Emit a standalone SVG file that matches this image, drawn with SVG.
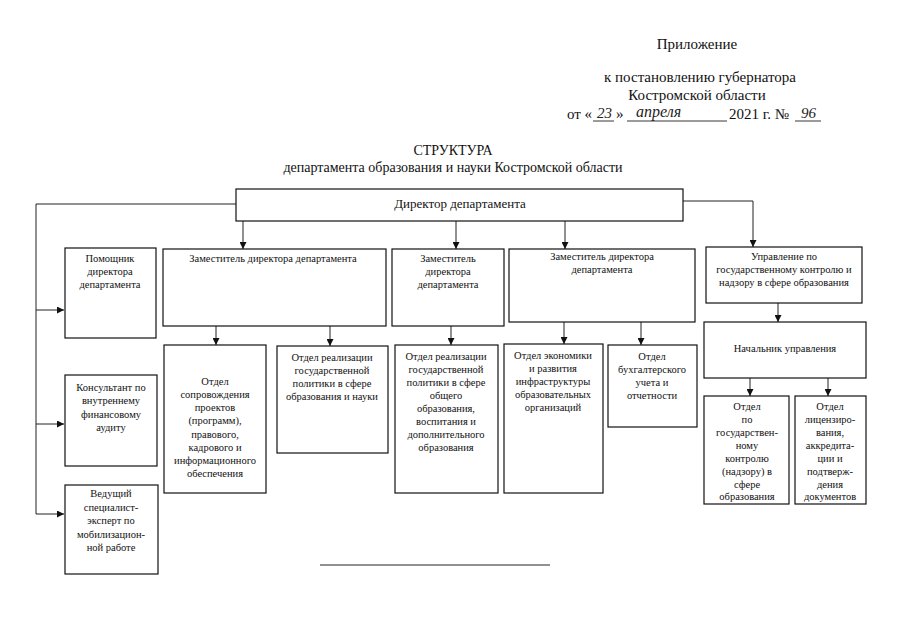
<svg xmlns="http://www.w3.org/2000/svg" width="905" height="640" viewBox="0 0 905 640">
<style>
.bg{fill:#fff}
.box{fill:#fff;stroke:#111;stroke-width:1.2}
.t{font-family:"Liberation Serif","Times New Roman",serif;font-size:10.5px;fill:#111;text-anchor:middle}
.h{font-family:"Liberation Serif","Times New Roman",serif;font-size:15px;fill:#111}
.hw{font-family:"Liberation Serif","Times New Roman",serif;font-style:italic;font-size:15px;fill:#222}
.ti{font-family:"Liberation Serif","Times New Roman",serif;font-size:14px;fill:#111;text-anchor:middle}
.c{fill:none;stroke:#222;stroke-width:1}
</style>
<defs>
<marker id="ar" viewBox="0 0 8 8" refX="8" refY="4" markerWidth="7" markerHeight="7" markerUnits="userSpaceOnUse" orient="auto">
<path d="M0,0 L8,4 L0,8 z" fill="#111"/>
</marker>
</defs>
<rect class="bg" x="0" y="0" width="905" height="640"/>

<g id="header">
<text class="h" x="697" y="49" text-anchor="middle">Приложение</text>
<text class="h" x="700" y="82" text-anchor="middle">к постановлению губернатора</text>
<text class="h" x="697" y="100" text-anchor="middle">Костромской области</text>
<text class="h" x="592" y="119" text-anchor="end">от «</text>
<text class="hw" x="597" y="118">23</text>
<text class="h" x="616" y="119">»</text>
<text class="hw" x="636" y="117" style="font-size:16px">апреля</text>
<text class="h" x="729" y="119">2021 г. №</text>
<text class="hw" x="801" y="118">96</text>
<path d="M593,121 H614 M627,121 H727 M795,121 H821" stroke="#222" stroke-width="0.9" fill="none"/>
</g>

<g id="title">
<text class="ti" x="453" y="155">СТРУКТУРА</text>
<text class="ti" x="453" y="172">департамента образования и науки Костромской области</text>
</g>

<g id="connectors">
<path class="c" d="M236,204 H36 V514 H64" marker-end="url(#ar)"/>
<path class="c" d="M36,310 H64" marker-end="url(#ar)"/>
<path class="c" d="M36,424 H64" marker-end="url(#ar)"/>
<path class="c" d="M243,221 V249" marker-end="url(#ar)"/>
<path class="c" d="M456,221 V249" marker-end="url(#ar)"/>
<path class="c" d="M565,221 V249" marker-end="url(#ar)"/>
<path class="c" d="M683,201 H753 V247" marker-end="url(#ar)"/>
<path class="c" d="M216,326 V345" marker-end="url(#ar)"/>
<path class="c" d="M330,326 V346" marker-end="url(#ar)"/>
<path class="c" d="M451,326 V345" marker-end="url(#ar)"/>
<path class="c" d="M564,322 V344" marker-end="url(#ar)"/>
<path class="c" d="M641,322 V345" marker-end="url(#ar)"/>
<path class="c" d="M778,303 V322" marker-end="url(#ar)"/>
<path class="c" d="M750,378 V396" marker-end="url(#ar)"/>
<path class="c" d="M828,378 V396" marker-end="url(#ar)"/>
</g>

<g id="director">
<rect class="box" x="236" y="189" width="447" height="32"/>
<text class="t" x="460" y="208" style="font-size:13px">Директор департамента</text>
</g>

<g id="pomoshnik">
<rect class="box" x="65" y="248" width="91" height="90"/>
<text class="t" x="110" y="262">Помощник</text>
<text class="t" x="110" y="275">директора</text>
<text class="t" x="110" y="288">департамента</text>
</g>

<g id="konsultant">
<rect class="box" x="65" y="375" width="92" height="91"/>
<text class="t" x="111" y="391">Консультант по</text>
<text class="t" x="111" y="404">внутреннему</text>
<text class="t" x="111" y="418">финансовому</text>
<text class="t" x="111" y="431">аудиту</text>
</g>

<g id="vedushiy">
<rect class="box" x="65" y="485" width="93" height="89"/>
<text class="t" x="111" y="497">Ведущий</text>
<text class="t" x="111" y="511">специалист-</text>
<text class="t" x="111" y="524">эксперт по</text>
<text class="t" x="111" y="538">мобилизацион-</text>
<text class="t" x="111" y="551">ной работе</text>
</g>

<g id="zam1">
<rect class="box" x="163" y="249" width="223" height="77"/>
<text class="t" x="273" y="262">Заместитель директора департамента</text>
</g>

<g id="zam2">
<rect class="box" x="392" y="249" width="112" height="77"/>
<text class="t" x="448" y="262">Заместитель</text>
<text class="t" x="448" y="275">директора</text>
<text class="t" x="448" y="288">департамента</text>
</g>

<g id="zam3">
<rect class="box" x="509" y="249" width="186" height="73"/>
<text class="t" x="602" y="260">Заместитель директора</text>
<text class="t" x="602" y="273">департамента</text>
</g>

<g id="upravlenie">
<rect class="box" x="706" y="247" width="156" height="56"/>
<text class="t" x="784" y="260">Управление по</text>
<text class="t" x="784" y="273">государственному контролю и</text>
<text class="t" x="784" y="286">надзору в сфере образования</text>
</g>

<g id="otdel_soprovozhdeniya">
<rect class="box" x="164" y="345" width="102" height="148"/>
<text class="t" x="215" y="385">Отдел</text>
<text class="t" x="215" y="398">сопровождения</text>
<text class="t" x="215" y="411">проектов</text>
<text class="t" x="215" y="424">(программ),</text>
<text class="t" x="215" y="438">правового,</text>
<text class="t" x="215" y="451">кадрового и</text>
<text class="t" x="215" y="464">информационного</text>
<text class="t" x="215" y="477">обеспечения</text>
</g>

<g id="otdel_nauki">
<rect class="box" x="277" y="346" width="111" height="107"/>
<text class="t" x="332" y="361">Отдел реализации</text>
<text class="t" x="332" y="374">государственной</text>
<text class="t" x="332" y="387">политики в сфере</text>
<text class="t" x="332" y="400">образования и науки</text>
</g>

<g id="otdel_obshego">
<rect class="box" x="395" y="345" width="103" height="148"/>
<text class="t" x="446" y="360">Отдел реализации</text>
<text class="t" x="446" y="373">государственной</text>
<text class="t" x="446" y="386">политики в сфере</text>
<text class="t" x="446" y="399">общего</text>
<text class="t" x="446" y="412">образования,</text>
<text class="t" x="446" y="425">воспитания и</text>
<text class="t" x="446" y="438">дополнительного</text>
<text class="t" x="446" y="451">образования</text>
</g>

<g id="otdel_ekonomiki">
<rect class="box" x="504" y="344" width="99" height="149"/>
<text class="t" x="553" y="359">Отдел экономики</text>
<text class="t" x="553" y="372">и развития</text>
<text class="t" x="553" y="385">инфраструктуры</text>
<text class="t" x="553" y="398">образовательных</text>
<text class="t" x="553" y="411">организаций</text>
</g>

<g id="otdel_buh">
<rect class="box" x="608" y="345" width="89" height="82"/>
<text class="t" x="652" y="360">Отдел</text>
<text class="t" x="652" y="373">бухгалтерского</text>
<text class="t" x="652" y="386">учета и</text>
<text class="t" x="652" y="399">отчетности</text>
</g>

<g id="nachalnik">
<rect class="box" x="704" y="322" width="162" height="56"/>
<text class="t" x="785" y="352">Начальник управления</text>
</g>

<g id="otdel_kontrol">
<rect class="box" x="704" y="396" width="85" height="108"/>
<text class="t" x="747" y="410">Отдел</text>
<text class="t" x="747" y="423">по</text>
<text class="t" x="747" y="436">государствен-</text>
<text class="t" x="747" y="449">ному</text>
<text class="t" x="747" y="462">контролю</text>
<text class="t" x="747" y="475">(надзору) в</text>
<text class="t" x="747" y="488">сфере</text>
<text class="t" x="747" y="500">образования</text>
</g>

<g id="otdel_licenz">
<rect class="box" x="795" y="396" width="71" height="108"/>
<text class="t" x="830" y="410">Отдел</text>
<text class="t" x="830" y="423">лицензиро-</text>
<text class="t" x="830" y="436">вания,</text>
<text class="t" x="830" y="449">аккредита-</text>
<text class="t" x="830" y="462">ции и</text>
<text class="t" x="830" y="475">подтверж-</text>
<text class="t" x="830" y="488">дения</text>
<text class="t" x="830" y="500">документов</text>
</g>

<path d="M320,565 H550" stroke="#222" stroke-width="1" fill="none"/>
</svg>
